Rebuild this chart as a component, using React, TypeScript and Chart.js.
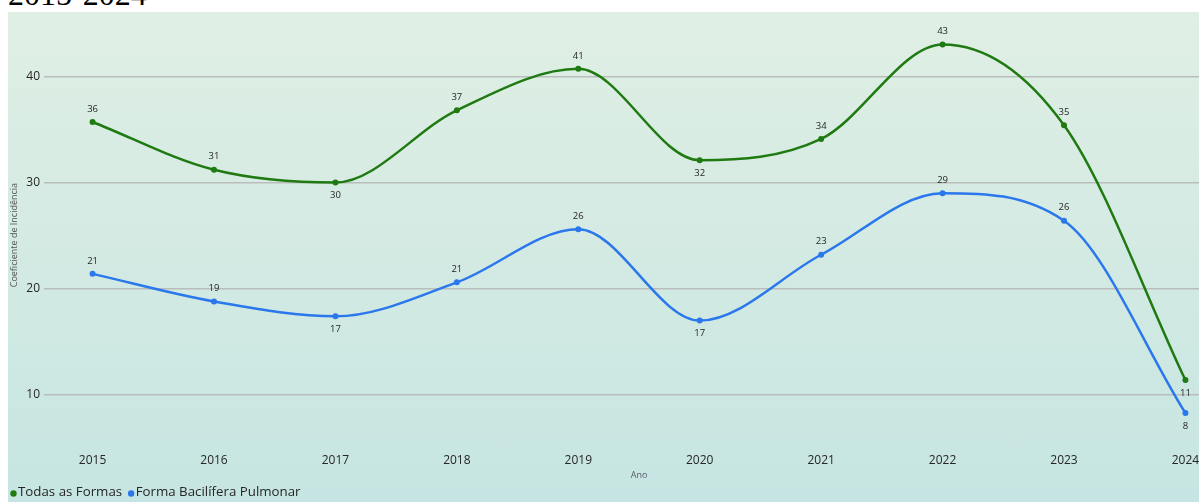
import React, { useEffect, useRef } from 'react';
import { Chart, registerables } from 'chart.js';

Chart.register(...registerables);

const years = [2015, 2016, 2017, 2018, 2019, 2020, 2021, 2022, 2023, 2024];
const todasAsFormas = [35.7, 31.2, 30.0, 36.8, 40.7, 32.1, 34.1, 43.0, 35.4, 11.4];
const baciliferaPulmonar = [21.4, 18.8, 17.4, 20.6, 25.6, 17.0, 23.2, 29.0, 26.4, 8.3];
const seriesNames = ['Todas as Formas', 'Forma Bacilífera Pulmonar'];
const seriesColors = ['#1f7a12', '#2b77ec'];
const yTicks = [10, 20, 30, 40];

const FONT = '"Open Sans", "Noto Sans", sans-serif';

const pointLabelPlugin = {
  id: 'pointLabels',
  afterDatasetsDraw(chart: any) {
    const ctx = chart.ctx;
    ctx.save();
    ctx.font = `9.5px ${FONT}`;
    ctx.fillStyle = '#262626';
    ctx.textAlign = 'center';
    ctx.textBaseline = 'middle';
    chart.data.datasets.forEach((ds: any, di: number) => {
      const meta = chart.getDatasetMeta(di);
      const vals = ds.data.map((d: any) => d.y);
      meta.data.forEach((pt: any, i: number) => {
        const v = vals[i];
        const prev = i > 0 ? vals[i - 1] : Infinity;
        const next = i < vals.length - 1 ? vals[i + 1] : Infinity;
        const below = v < prev && v < next;
        ctx.fillText(String(Math.round(v)), pt.x, pt.y + (below ? 13 : -13));
      });
    });
    ctx.restore();
  },
};

// simple bottom-left legend (circle + label), drawn on the chart canvas
const bottomLegendPlugin = {
  id: 'bottomLegend',
  afterDraw(chart: any) {
    const ctx = chart.ctx;
    ctx.save();
    ctx.font = `13.3px ${FONT}`;
    ctx.textBaseline = 'middle';
    ctx.textAlign = 'left';
    let cx = 7.5;
    const textY = chart.height - 10;
    const dotY = chart.height - 8.5;
    chart.data.datasets.forEach((ds: any) => {
      ctx.fillStyle = ds.borderColor;
      ctx.beginPath();
      ctx.arc(cx, dotY, 3.2, 0, Math.PI * 2);
      ctx.fill();
      const tx = cx + 4.5;
      ctx.fillStyle = '#262626';
      ctx.fillText(ds.label, tx, textY);
      cx = tx + ctx.measureText(ds.label).width + 9;
    });
    ctx.restore();
  },
};

export default function App() {
  const canvasRef = useRef<HTMLCanvasElement | null>(null);

  useEffect(() => {
    document.documentElement.style.overflow = 'hidden';
    const canvas = canvasRef.current;
    if (!canvas) return;
    Chart.defaults.font.family = FONT;
    const mk = (vals: number[]) => vals.map((v, i) => ({ x: years[i], y: v }));
    const ds = (k: number, vals: number[]) => ({
      label: seriesNames[k],
      data: mk(vals),
      borderColor: seriesColors[k],
      backgroundColor: seriesColors[k],
      pointBackgroundColor: seriesColors[k],
      borderWidth: 2.5,
      pointRadius: 3,
      pointBorderWidth: 0,
      tension: 0.4,
      cubicInterpolationMode: 'monotone',
    });
    const chart = new Chart(canvas, {
      type: 'line',
      data: {
        datasets: [ds(0, todasAsFormas), ds(1, baciliferaPulmonar)],
      },
      options: {
        responsive: false,
        animation: false,
        devicePixelRatio: 1,
        layout: { padding: { top: 10, right: 17, left: 0, bottom: 21 } },
        plugins: {
          tooltip: { enabled: false },
          legend: { display: false },
        },
        scales: {
          x: {
            type: 'linear',
            min: 2014.6,
            max: 2024.4,
            grid: { display: false, drawTicks: false },
            border: { display: false },
            ticks: {
              stepSize: 1,
              includeBounds: false,
              autoSkip: false,
              maxRotation: 0,
              padding: 6,
              color: '#262626',
              font: { size: 12, family: FONT },
              callback: (v: any) => String(v),
            },
            title: {
              display: true,
              text: 'Ano',
              color: '#555a66',
              font: { size: 9, family: FONT },
              padding: { top: 0, bottom: 0 },
            },
            afterFit: (s: any) => {
              s.height = 34;
            },
          },
          y: {
            min: 5.1,
            max: 45,
            grid: { color: '#babdbc', lineWidth: 1.5, drawTicks: false },
            border: { display: false },
            afterBuildTicks: (s: any) => {
              s.ticks = yTicks.map((v) => ({ value: v }));
            },
            ticks: {
              padding: 4,
              color: '#262626',
              font: { size: 12, family: FONT },
            },
            title: {
              display: true,
              text: 'Coeficiente de Incidência',
              color: '#555555',
              font: { size: 9, family: FONT },
              padding: { top: 3, bottom: 0 },
            },
            afterFit: (s: any) => {
              s.width = 38;
            },
          },
        },
      },
      plugins: [pointLabelPlugin, bottomLegendPlugin],
    } as any);
    return () => chart.destroy();
  }, []);

  return (
    <>
      <div
        style={{
          position: 'absolute',
          top: -24,
          left: 8,
          fontFamily: '"Liberation Serif", serif',
          fontSize: 32,
          lineHeight: '36px',
          height: 36,
          color: '#000',
          whiteSpace: 'nowrap',
        }}
      >
        2015-2024
      </div>
      <div
        style={{
          position: 'absolute',
          top: 12,
          left: 8,
          width: 1191,
          height: 490,
          overflow: 'hidden',
          background: 'linear-gradient(180deg, #e0efe4 0%, #c6e5e2 100%)',
        }}
      >
        <div style={{ position: 'absolute', left: -2, top: 0, width: 1245, height: 490 }}>
          <canvas ref={canvasRef} width={1245} height={490} style={{ display: 'block' }} />
        </div>
      </div>
    </>
  );
}
